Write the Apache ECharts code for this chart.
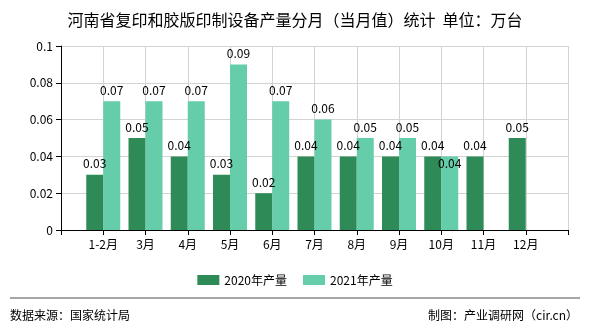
<!DOCTYPE html>
<html>
<head>
<meta charset="utf-8">
<script src="https://cdn.jsdelivr.net/npm/echarts@6/dist/echarts.min.js"></script>
<style>html,body{margin:0;padding:0;background:#fff}#c{width:590px;height:330px}</style>
</head>
<body>
<div id="c"></div>
<script>
const categories = ['1-2月','3月','4月','5月','6月','7月','8月','9月','10月','11月','12月'];
const values2020 = [0.03,0.05,0.04,0.03,0.02,0.04,0.04,0.04,0.04,0.04,0.05];
const values2021 = [0.07,0.07,0.07,0.09,0.07,0.06,0.05,0.05,0.04,null,null];
const seriesNames = ['2020年产量','2021年产量'];
const yTicks = {min:0, max:0.1, interval:0.02};

const FONT = '"Noto Sans CJK SC", "Noto Sans", sans-serif';
const axisCats = [''].concat(categories, ['']);
const pad = arr => [null].concat(arr, [null]);

const d2021 = pad(values2021).map((v, i) => {
  if (axisCats[i] === '10月') {
    return {value: v, label: {position: 'insideTop', distance: 1}};
  }
  return v;
});

const chart = echarts.init(document.getElementById('c'), null, {renderer:'canvas'});
chart.setOption({
  animation: false,
  backgroundColor: '#ffffff',
  textStyle: {fontFamily: FONT},
  title: {
    text: '河南省复印和胶版印制设备产量分月（当月值）统计  单位：万台',
    left: 'center', top: 7,
    textStyle: {fontSize: 16, fontWeight: 'normal', color: '#000', fontFamily: FONT}
  },
  legend: {
    data: seriesNames,
    top: 269, left: 'center',
    itemWidth: 22, itemHeight: 10, itemGap: 16,
    icon: 'rect',
    textStyle: {fontSize: 12, color: '#000', fontFamily: FONT}
  },
  grid: {left: 61, right: 22, top: 46, bottom: 100, containLabel: false},
  xAxis: {
    type: 'category',
    data: axisCats,
    boundaryGap: false,
    axisLine: {lineStyle: {color: '#000', width: 1}},
    axisTick: {show: true, length: 5, lineStyle: {color: '#000'}},
    axisLabel: {interval: 0, fontSize: 12, color: '#000', margin: 8, fontFamily: FONT},
    splitLine: {show: true, lineStyle: {color: '#d3d3d3', width: 1}}
  },
  yAxis: {
    type: 'value',
    min: yTicks.min, max: yTicks.max, interval: yTicks.interval,
    axisLine: {show: true, lineStyle: {color: '#000', width: 1}},
    axisTick: {show: true, length: 5, lineStyle: {color: '#000'}},
    axisLabel: {fontSize: 12, color: '#000', margin: 8, fontFamily: FONT},
    splitLine: {show: true, lineStyle: {color: '#d3d3d3', width: 1}}
  },
  series: [
    {
      name: seriesNames[0], type: 'bar', data: pad(values2020),
      barWidth: 17, barGap: '0%',
      itemStyle: {color: '#2e8b57'},
      label: {show: true, position: 'top', distance: 5, fontSize: 12, color: '#000', fontFamily: FONT}
    },
    {
      name: seriesNames[1], type: 'bar', data: d2021,
      barWidth: 17, barGap: '0%',
      itemStyle: {color: '#66cdaa'},
      label: {show: true, position: 'top', distance: 5, fontSize: 12, color: '#000', fontFamily: FONT}
    }
  ],
  graphic: [
    {type: 'line', shape: {x1: 10, y1: 298, x2: 580, y2: 298}, style: {stroke: '#888', lineWidth: 1.5}},
    {type: 'text', left: 10, top: 309, style: {text: '数据来源：国家统计局', fontSize: 12, fill: '#000', fontFamily: FONT}},
    {type: 'text', right: 12, top: 309, style: {text: '制图：产业调研网（cir.cn）', fontSize: 12, fill: '#000', fontFamily: FONT}}
  ]
});
</script>
</body>
</html>
